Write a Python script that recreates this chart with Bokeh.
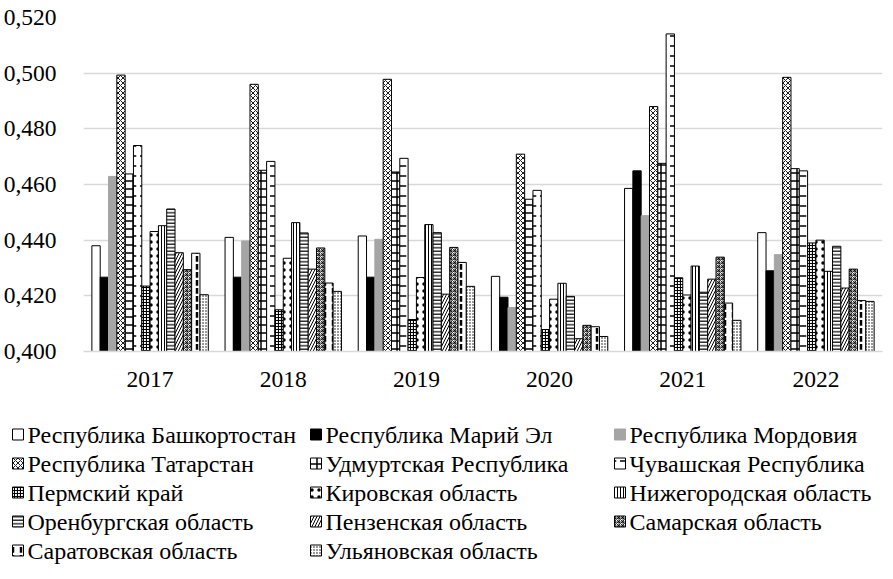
from bokeh.plotting import figure
from bokeh.models import (FactorRange, Range1d, CustomJSTickFormatter, FixedTicker,
                          ColumnDataSource, Label)
from bokeh.transform import dodge
from bokeh.embed import file_html
from bokeh.resources import INLINE

years = ["2017", "2018", "2019", "2020", "2021", "2022"]
series_names = [
    "Республика Башкортостан", "Республика Марий Эл", "Республика Мордовия",
    "Республика Татарстан", "Удмуртская Республика", "Чувашская Республика",
    "Пермский край", "Кировская область", "Нижегородская область",
    "Оренбургская область", "Пензенская область", "Самарская область",
    "Саратовская область", "Ульяновская область",
]
bashkortostan = [0.438, 0.441, 0.4415, 0.427, 0.4586, 0.4427]
mari_el = [0.4267, 0.4267, 0.4267, 0.4195, 0.4649, 0.429]
mordovia = [0.4629, 0.4397, 0.4403, 0.4158, 0.4488, 0.4348]
tatarstan = [0.4993, 0.496, 0.4978, 0.4709, 0.488, 0.4985]
udmurtia = [0.4638, 0.4651, 0.4645, 0.4547, 0.4676, 0.4657]
chuvashia = [0.474, 0.4683, 0.4694, 0.4579, 0.5141, 0.4649]
perm = [0.4235, 0.415, 0.4115, 0.4079, 0.4265, 0.439]
kirov = [0.4431, 0.4335, 0.4266, 0.4188, 0.4203, 0.44]
nizhny = [0.4452, 0.4463, 0.4456, 0.4245, 0.4307, 0.4288]
orenburg = [0.4512, 0.4426, 0.4427, 0.4198, 0.4213, 0.4378]
penza = [0.4355, 0.4296, 0.4206, 0.4046, 0.426, 0.4228]
samara = [0.4294, 0.4372, 0.4374, 0.4094, 0.4339, 0.4296]
saratov = [0.4353, 0.4246, 0.432, 0.4089, 0.4174, 0.4183]
ulyanovsk = [0.4204, 0.4216, 0.4234, 0.4054, 0.4112, 0.418]
series_values = [bashkortostan, mari_el, mordovia, tatarstan, udmurtia, chuvashia,
                 perm, kirov, nizhny, orenburg, penza, samara, saratov, ulyanovsk]
y_ticks = [0.40, 0.42, 0.44, 0.46, 0.48, 0.50, 0.52]

FONT = "'Liberation Serif'"
FS = "23.5px"
FS_LEG = "24px"

styles = [
    dict(fill_color="white", line_color="black"),
    dict(fill_color="black", line_color="black"),
    dict(fill_color="#a5a5a5", line_color="#a5a5a5"),
    dict(fill_color="white", line_color="black", hatch_pattern="x", hatch_scale=5, hatch_weight=0.9),
    dict(fill_color="white", line_color="black", hatch_pattern="+", hatch_scale=8, hatch_weight=1.5),
    dict(fill_color="white", line_color="black", hatch_pattern='"', hatch_scale=10, hatch_weight=1.5),
    dict(fill_color="white", line_color="black", hatch_pattern="+", hatch_scale=3, hatch_weight=1.2),
    dict(fill_color="white", line_color="black", hatch_pattern=".", hatch_scale=7, hatch_weight=1.5),
    dict(fill_color="white", line_color="black", hatch_pattern="|", hatch_scale=3, hatch_weight=1),
    dict(fill_color="white", line_color="black", hatch_pattern="-", hatch_scale=3.5, hatch_weight=1.2),
    dict(fill_color="white", line_color="black", hatch_pattern="/", hatch_scale=6, hatch_weight=1),
    dict(fill_color="white", line_color="black", hatch_pattern="*", hatch_scale=4, hatch_weight=0.8),
    dict(fill_color="white", line_color="black", hatch_pattern=":", hatch_scale=8, hatch_weight=2.5),
    dict(fill_color="white", line_color="black", hatch_pattern=".", hatch_scale=3, hatch_weight=1),
]

W = 885
p = figure(x_range=FactorRange(factors=years), y_range=Range1d(0.40, 0.52),
           width=W, height=395, output_backend="svg", toolbar_location=None,
           min_border_left=72, min_border_right=3, min_border_top=17, min_border_bottom=44)
p.outline_line_color = None
p.background_fill_color = "white"
p.xgrid.visible = False
p.ygrid.grid_line_color = "#d9d9d9"
p.ygrid.grid_line_width = 1.3
p.yaxis.ticker = FixedTicker(ticks=y_ticks)
p.yaxis.formatter = CustomJSTickFormatter(code="return tick.toFixed(3).replace('.', ',');")
p.yaxis.axis_line_color = None
p.yaxis.major_tick_line_color = None
p.yaxis.minor_tick_line_color = None
p.yaxis.major_label_standoff = 21
p.xaxis.axis_line_color = "#d9d9d9"
p.xaxis.axis_line_width = 1.3
p.xaxis.major_tick_line_color = None
p.xaxis.major_label_standoff = 14
for ax in (p.xaxis, p.yaxis):
    ax.major_label_text_font = FONT
    ax.major_label_text_font_size = FS
    ax.major_label_text_color = "black"

n = len(series_names)
bw = 118.0 / 135.0 / n
for i, (vals, st) in enumerate(zip(series_values, styles)):
    src = ColumnDataSource(dict(year=years, val=vals))
    off = (i - (n - 1) / 2.0) * bw
    p.vbar(x=dodge("year", off, range=p.x_range), top="val", bottom=0.40, width=bw,
           source=src, line_width=1, **st)

# legend panel (separate root, stacked below the chart)
LH = 173
lg = figure(x_range=Range1d(0, W), y_range=Range1d(LH, 0), width=W, height=LH,
            output_backend="svg", toolbar_location=None, min_border=0,
            x_axis_location=None, y_axis_location=None)
lg.grid.visible = False
lg.outline_line_color = None
col_icon = [17.5, 315.5, 619.5]
row_y = [39, 68, 97, 126, 155]
for i, (name, st) in enumerate(zip(series_names, styles)):
    c, r = i % 3, i // 3
    lg.rect(x=[col_icon[c]], y=[row_y[r]], width=11, height=11, line_width=1, **st)
    lg.add_layout(Label(x=col_icon[c] + 9.5, y=row_y[r], text=name, text_font=FONT,
                        text_font_size=FS_LEG, text_baseline="middle", text_align="left",
                        text_color="black"))

open("out.html", "w").write(file_html([p, lg], INLINE))
